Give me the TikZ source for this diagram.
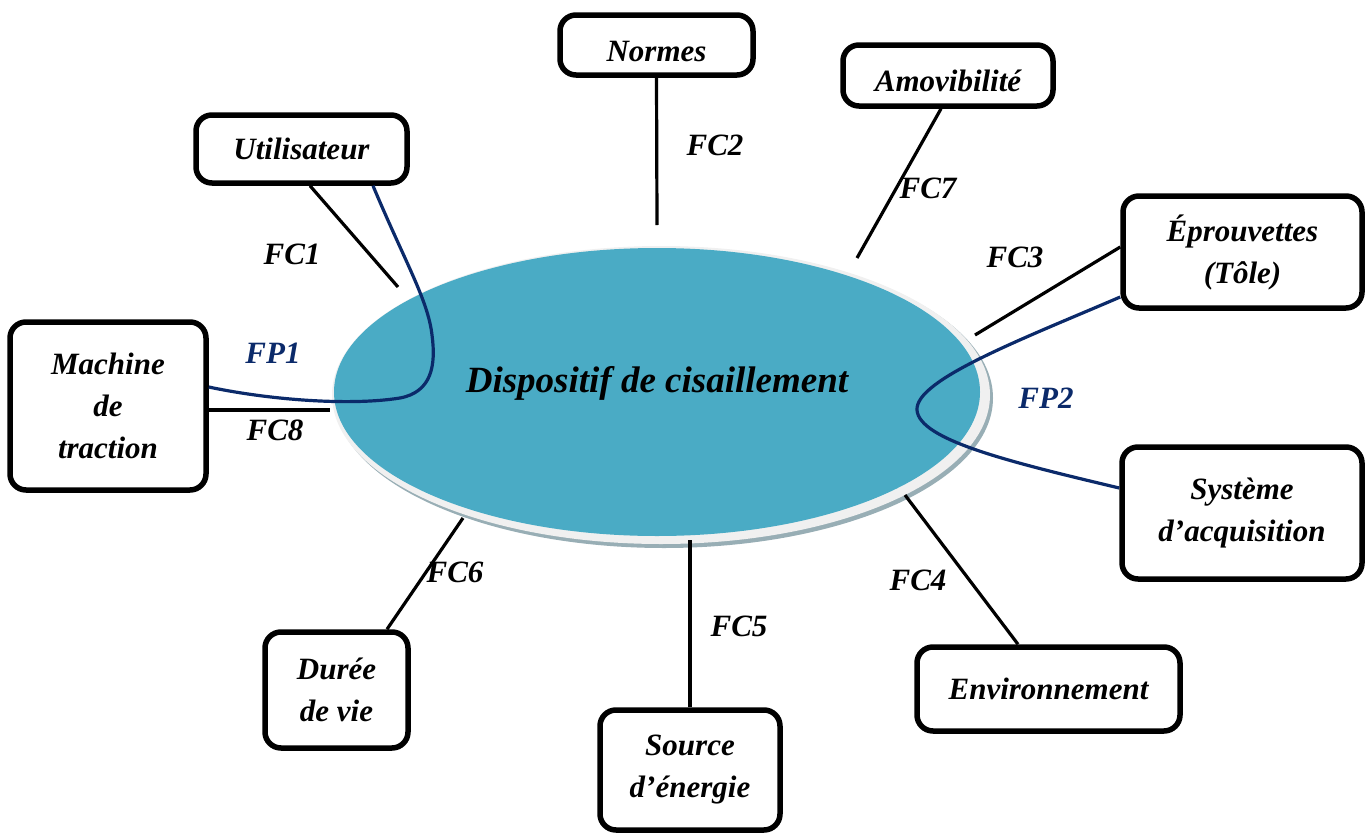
\documentclass[tikz,border=0pt]{standalone}
\usepackage{fontspec}
\setmainfont{Liberation Serif}
\definecolor{tealfill}{HTML}{4AABC5}
\definecolor{ringc}{HTML}{F0F0F0}
\definecolor{shadowc}{HTML}{98AEB5}
\definecolor{navy}{HTML}{0B2A6A}
\tikzset{
  box/.style={draw=black, line width=5.5pt, rounded corners=16pt, fill=white, align=center,
    font=\fontsize{31}{42}\selectfont\bfseries\itshape, inner sep=0pt},
  fc/.style={draw=black, line width=3.2pt},
  fp/.style={draw=navy, line width=3.2pt},
  lbl/.style={font=\fontsize{31}{36}\selectfont\bfseries\itshape, inner sep=0pt},
  lblp/.style={lbl, text=navy}
}
\begin{document}
\begin{tikzpicture}[x=1pt,y=-1pt]
\useasboundingbox (0,0) rectangle (1371,835);
% ellipse
\fill[shadowc] (664,398) ellipse [x radius=329pt, y radius=150pt];
\fill[ringc] (661,395) ellipse [x radius=329pt, y radius=149pt];
\fill[tealfill] (657,392) ellipse [x radius=323pt, y radius=144pt];
\node[font=\fontsize{37}{40}\selectfont\bfseries\itshape, inner sep=0pt] (disp) at (657,383) {Dispositif de cisaillement};
% boxes
\node[box, minimum width=193pt, minimum height=60pt, text height=32pt, text depth=0pt] (normes) at (656.5,45) {Normes};
\node[box, minimum width=210pt, minimum height=61pt, text height=31pt, text depth=0pt] (amov) at (948,75.5) {Amovibilité};
\node[box, minimum width=211pt, minimum height=68pt] (util) at (301.5,149) {Utilisateur};
\node[box, minimum width=239pt, minimum height=112pt] (eprou) at (1242.5,252) {Éprouvettes\\(Tôle)};
\node[box, minimum width=196pt, minimum height=168pt] (machine) at (108,406) {Machine\\de\\traction};
\node[box, minimum width=240pt, minimum height=132pt] (systeme) at (1242,513) {Système\\d’acquisition};
\node[box, minimum width=263pt, minimum height=84pt] (envir) at (1048.5,689) {Environnement};
\node[box, minimum width=143pt, minimum height=116pt] (duree) at (336.5,690) {Durée\\de vie};
\node[box, minimum width=180pt, minimum height=120pt] (source) at (690,770) {Source\\d’énergie};
% ellipse-side ends
\coordinate (e2) at (657,225);
\coordinate (e7) at (857,258);
\coordinate (e1) at (398,287);
\coordinate (e3) at (975,335);
\coordinate (e8) at (330,410);
\coordinate (e6) at (463,518);
\coordinate (e5) at (690,540);
\coordinate (e4) at (905,495);
% FC connectors
\draw[fc] (normes.south) -- (e2);
\draw[fc] ([xshift=-7pt]amov.south) -- (e7);
\draw[fc] ([xshift=8.5pt]util.south) -- (e1);
\draw[fc] ([yshift=5pt]eprou.west) -- (e3);
\draw[fc] ([yshift=-4pt]machine.east) -- (e8);
\draw[fc] ([xshift=50.5pt]duree.north) -- (e6);
\draw[fc] (source.north) -- (e5);
\draw[fc] ([xshift=-30.5pt]envir.north) -- (e4);
% FP curves
\draw[fp] ([yshift=19pt]machine.east) .. controls (270,400) and (350,406) .. (400,398)
  .. controls (432,392) and (436,365) .. (432,335)
  .. controls (428,300) and (405,262) .. ([xshift=71.5pt]util.south);
\draw[fp] ([yshift=-45pt]eprou.west) .. controls (1020,340) and (915,380) .. (917,410)
  .. controls (919,440) and (1010,462) .. ([yshift=25pt]systeme.west);
% labels
\node[lbl] (l2) at (715,145) {FC2};
\node[lbl] (l7) at (928,188) {FC7};
\node[lbl] (l1) at (292,254) {FC1};
\node[lbl] (l3) at (1015,257) {FC3};
\node[lblp] (p1) at (273,353) {FP1};
\node[lbl] (l8) at (275,430) {FC8};
\node[lblp] (p2) at (1046,398) {FP2};
\node[lbl] (l6) at (455,572) {FC6};
\node[lbl] (l5) at (739,626) {FC5};
\node[lbl] (l4) at (918,580) {FC4};
\end{tikzpicture}
\end{document}
